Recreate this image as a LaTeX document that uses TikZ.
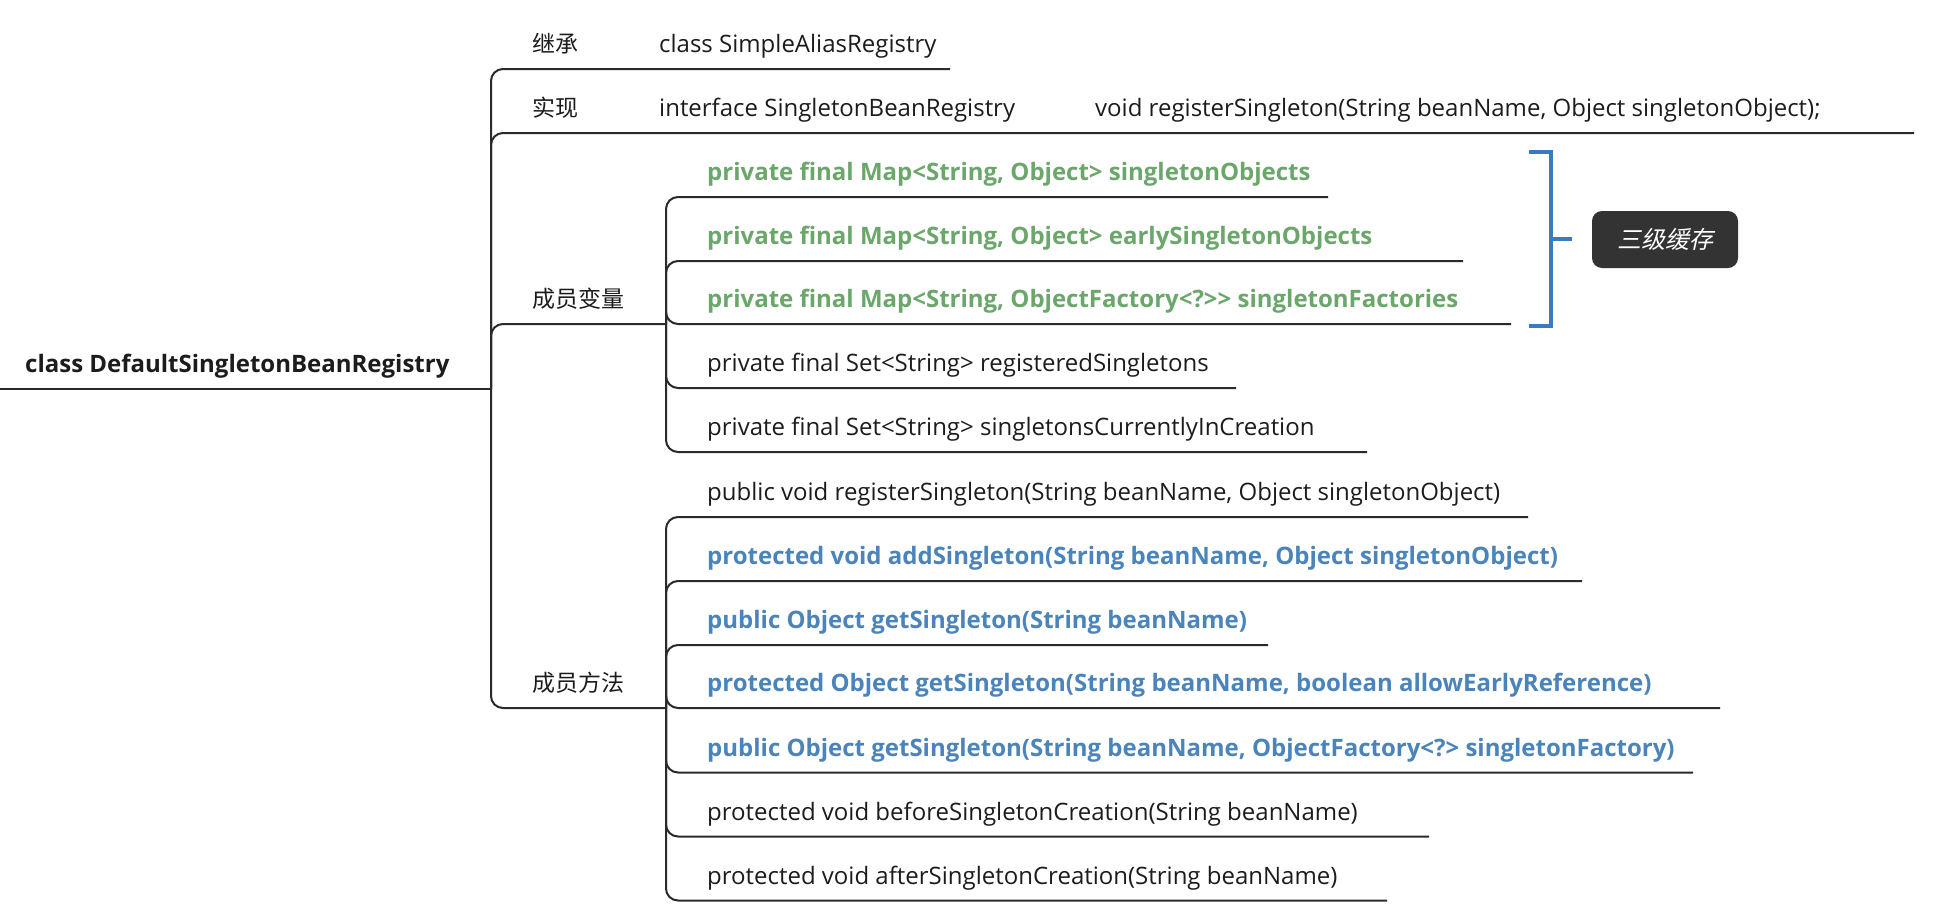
\documentclass[tikz,border=0pt]{standalone}
\usepackage{fontspec}
\setmainfont{Open Sans}
\newfontfamily\cjk{Noto Sans CJK SC}
\newfontfamily\cjkit[FakeSlant=0.22]{Noto Sans CJK SC}
\definecolor{linec}{HTML}{2A2A2A}
\definecolor{txtc}{HTML}{1C1C1C}
\definecolor{greenc}{HTML}{6BA66B}
\definecolor{bluec}{HTML}{4A84BA}
\definecolor{brc}{HTML}{3A7BBF}
\definecolor{boxc}{HTML}{333333}
\tikzset{
  branch/.style={draw=linec, line width=2pt, rounded corners=12pt},
  lbl/.style={anchor=base west, inner sep=0pt, text=txtc, font=\fontsize{24}{28}\selectfont},
  cjklbl/.style={lbl, font=\fontsize{23}{28}\selectfont\cjk},
  greenlbl/.style={lbl, text=greenc, font=\fontsize{24}{28}\selectfont\bfseries},
  bluelbl/.style={lbl, text=bluec, font=\fontsize{24}{28}\selectfont\bfseries},
  rootlbl/.style={lbl, font=\fontsize{24}{28}\selectfont\bfseries},
  bracket/.style={draw=brc, line width=3.5pt},
  cachebox/.style={fill=boxc, rounded corners=10pt, minimum width=146pt, minimum height=57pt, text=white, inner sep=0pt, font=\fontsize{24}{28}\selectfont\cjkit}
}
\begin{document}
\begin{tikzpicture}[x=1pt,y=-1pt]
\useasboundingbox (0,0) rectangle (1938,918);
% root
\node[rootlbl] (root) at (25,372.5) {class DefaultSingletonBeanRegistry};
\coordinate (r0) at (0,389);
\coordinate (rs) at (491,389);
\draw[branch] (r0) -- (rs);
% level 1
\node[cjklbl] (jc) at (532,52.5) {继承};
\node[cjklbl] (sx) at (532,116.5) {实现};
\node[cjklbl] (bl) at (532,307.5) {成员变量};
\node[cjklbl] (ff) at (532,691.5) {成员方法};
\node[lbl] (sar) at (659,52.5) {class SimpleAliasRegistry};
\node[lbl] (sbr) at (659,116.5) {interface SingletonBeanRegistry};
\node[lbl] (rsg) at (1095,116.5) {void registerSingleton(String beanName, Object singletonObject);};
\coordinate (jce) at (950,69);
\coordinate (sxe) at (1914,133);
\coordinate (fs) at (666,324);
\coordinate (ms) at (666,708);
\draw[branch] (rs) |- (jce);
\draw[branch] (rs) |- (sxe);
\draw[branch] (rs) |- (fs);
\draw[branch] (rs) |- (ms);
% fields
\node[greenlbl] (f1) at (707,180.5) {private final Map<String, Object> singletonObjects};
\node[greenlbl] (f2) at (707,244.5) {private final Map<String, Object> earlySingletonObjects};
\node[greenlbl] (f3) at (707,307.5) {private final Map<String, ObjectFactory<?>{}> singletonFactories};
\node[lbl] (f4) at (707,371.5) {private final Set<String> registeredSingletons};
\node[lbl] (f5) at (707,435.5) {private final Set<String> singletonsCurrentlyInCreation};
\coordinate (f1e) at (1328,197);
\coordinate (f2e) at (1463,261);
\coordinate (f3e) at (1511,324);
\coordinate (f4e) at (1236,388);
\coordinate (f5e) at (1367,452);
\foreach \e in {f1e,f2e,f3e,f4e,f5e} \draw[branch] (fs) |- (\e);
% methods
\node[lbl] (m1) at (707,500.5) {public void registerSingleton(String beanName, Object singletonObject)};
\node[bluelbl] (m2) at (707,564.5) {protected void addSingleton(String beanName, Object singletonObject)};
\node[bluelbl] (m3) at (707,628.5) {public Object getSingleton(String beanName)};
\node[bluelbl] (m4) at (707,691.5) {protected Object getSingleton(String beanName, boolean allowEarlyReference)};
\node[bluelbl] (m5) at (707,756) {public Object getSingleton(String beanName, ObjectFactory<?> singletonFactory)};
\node[lbl] (m6) at (707,820) {protected void beforeSingletonCreation(String beanName)};
\node[lbl] (m7) at (707,884) {protected void afterSingletonCreation(String beanName)};
\coordinate (m1e) at (1528,517);
\coordinate (m2e) at (1582,581);
\coordinate (m3e) at (1268,645);
\coordinate (m4e) at (1720,708);
\coordinate (m5e) at (1693,772.5);
\coordinate (m6e) at (1429,836.5);
\coordinate (m7e) at (1387,900.5);
\foreach \e in {m1e,m2e,m3e,m4e,m5e,m6e,m7e} \draw[branch] (ms) |- (\e);
% summary bracket
\coordinate (bt) at (1529,152);
\coordinate (bb) at (1529,326);
\coordinate (bmid) at (1551,239);
\coordinate (btip) at (1572,239);
\draw[bracket] (bt) -- (1551,152) -- (1551,326) -- (bb);
\draw[bracket] (bmid) -- (btip);
\node[cachebox] (cache) at (1665,239.5) {三级缓存};
\end{tikzpicture}
\end{document}
